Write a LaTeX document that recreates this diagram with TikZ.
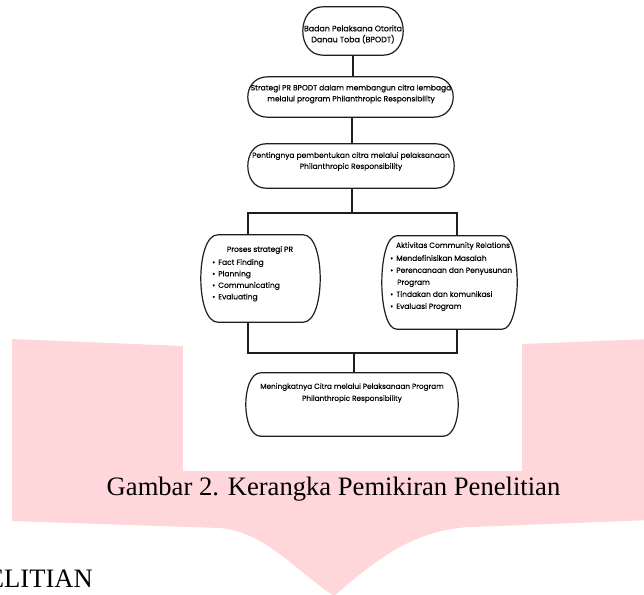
\documentclass[tikz,border=0pt]{standalone}
\usepackage{fontspec}
\setmainfont{Liberation Serif}
\newfontfamily\diafont[FakeBold=0.3]{Poppins}
\usepackage{tikz}
\usetikzlibrary{
  positioning,
  calc
}
\definecolor{blush}{RGB}{255,214,218}
\definecolor{inkline}{RGB}{30,30,30}
\tikzset{
  frame/.style  = {draw=inkline, line width=1.2pt},
  link/.style   = {draw=inkline, line width=1.2pt},
  holder/.style = {inner sep=0pt},
  words/.style  = {font=\diafont\fontsize{7.5}{11}\selectfont, align=center, inner sep=0pt},
  item/.style   = {font=\diafont\fontsize{7.5}{11}\selectfont, anchor=west, inner sep=0pt,
                   text height=1.5ex, text depth=.25ex}
}
% capsule outline round a named node: #1 name, #2 side bulge
\newcommand{\capsule}[2]{%
  \draw[frame] ([xshift=#2]#1.north west) -- ([xshift=-#2]#1.north east)
    .. controls ([xshift=#2/3]#1.north east) and ([xshift=#2/3]#1.south east) .. ([xshift=-#2]#1.south east)
    -- ([xshift=#2]#1.south west)
    .. controls ([xshift=-#2/3]#1.south west) and ([xshift=-#2/3]#1.north west) .. ([xshift=#2]#1.north west)
    -- cycle;}

\begin{document}
\begin{tikzpicture}[x=1pt, y=-1pt]
  \clip (0,0) rectangle (644,594);

  % Page background
  \fill [blush] (12,339) -- (183,346) -- (522,344) -- (650,339) -- (650,520) -- (470,527)
    .. controls (410,530) and (370,565) .. (334,596)
    .. controls (295,570) and (265,532) .. (220,528) -- (12,521) -- cycle;
  \fill [white] (183,0) rectangle (522,471);

  % Boxes
  \node [holder, minimum width=100pt, minimum height=48pt] (badan)    at (353,31)    {};
  \node [holder, minimum width=205pt, minimum height=40pt] (strategi) at (350.5,97)  {};
  \node [holder, minimum width=206pt, minimum height=44pt] (penting)  at (351,166)   {};
  \node [holder, minimum width=119pt, minimum height=87pt] (proses)   at (260.5,278.5) {};
  \node [holder, minimum width=135pt, minimum height=93pt] (aktivitas) at (449.5,282.5) {};
  \node [holder, minimum width=212pt, minimum height=63pt] (citra)    at (352,404.5) {};

  \capsule{badan}{20pt}
  \capsule{strategi}{20pt}
  \capsule{penting}{18pt}
  \capsule{proses}{17pt}
  \capsule{aktivitas}{15pt}
  \capsule{citra}{15pt}

  % Texts
  \node [words, font=\diafont\fontsize{7.9}{11}\selectfont] (tbadan) at (353,34.5) {Badan Pelaksana Otorita\\Danau Toba (BPODT)};
  \node [words] (tstrategi) at (351,94)    {Strategi PR BPODT dalam membangun citra lembaga\\melalui program Philanthropic Responsibility};
  \node [words] (tpenting)  at (351,161.5) {Pentingnya pembentukan citra melalui pelaksanaan\\Philanthropic Responsibility};
  \node [words, font=\diafont\fontsize{7.3}{12}\selectfont] (tcitra) at (352,393) {Meningkatnya Citra melalui Pelaksanaan Program\\Philanthropic Responsibility};

  \node [words] (tproses) at (260,250) {Proses strategi PR};
  \node [item] (p1) at (212,262)   {\textbullet\hspace{3pt}Fact Finding};
  \node [item] (p2) at (212,273.5) {\textbullet\hspace{3pt}Planning};
  \node [item] (p3) at (212,285)   {\textbullet\hspace{3pt}Communicating};
  \node [item] (p4) at (212,296.5) {\textbullet\hspace{3pt}Evaluating};

  \node [words] (taktivitas) at (453,246) {Aktivitas Community Relations};
  \node [item] (a1) at (390,258) {\textbullet\hspace{3pt}Mendefinisikan Masalah};
  \node [item] (a2) at (390,270) {\textbullet\hspace{3pt}Perencanaan dan Penyusunan};
  \node [item] (a3) at (397,282) {Program};
  \node [item] (a4) at (390,294) {\textbullet\hspace{3pt}Tindakan dan komunikasi};
  \node [item] (a5) at (390,306) {\textbullet\hspace{3pt}Evaluasi Program};

  % Link the boxes
  \coordinate (splitL) at (248,213);
  \coordinate (splitR) at (457,213);
  \coordinate (mergeL) at (248,353);
  \coordinate (mergeR) at (457,353);

  \draw [link] (badan.south) -- (badan.south |- strategi.north);
  \draw [link] ([xshift=1.5pt]strategi.south) -- ([xshift=1.5pt]strategi.south |- penting.north);
  \draw [link] ([xshift=1pt]penting.south) -- ([xshift=1pt]penting.south |- splitL);
  \draw [link] (proses.north -| splitL) -- (splitL) -- (splitR) -- (aktivitas.north -| splitR);
  \draw [link] (proses.south -| mergeL) -- (mergeL) -- (mergeR) -- (aktivitas.south -| mergeR);
  \draw [link] ([xshift=2pt]citra.north |- mergeL) -- ([xshift=2pt]citra.north);

  % Caption
  \node [font=\fontsize{26.6}{30}\selectfont, anchor=base, inner sep=0pt] (caption) at (333.5,495)
    {Gambar 2. Kerangka Pemikiran Penelitian};
  \node [font=\fontsize{26.6}{30}\selectfont, anchor=base east, inner sep=0pt] (heading) at (93,587)
    {ELITIAN};
\end{tikzpicture}
\end{document}
